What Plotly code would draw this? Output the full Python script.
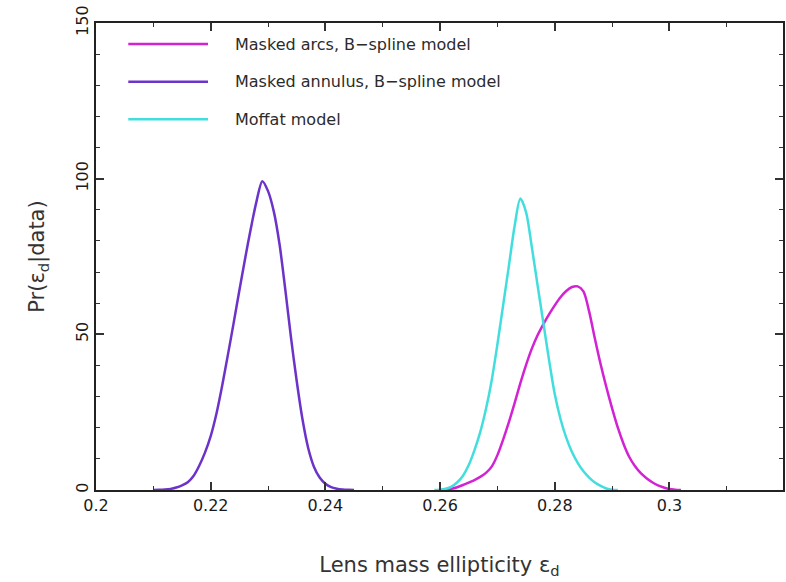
"""Posterior of lens mass ellipticity for three models."""

import plotly.graph_objects as go

# ellipticity grids and probability densities
annulus_x = [0.210, 0.211, 0.212, 0.213, 0.214, 0.215, 0.216, 0.217, 0.218,
             0.219, 0.220, 0.221, 0.222, 0.223, 0.224, 0.225, 0.226, 0.227,
             0.228, 0.229, 0.230, 0.231, 0.232, 0.233, 0.234, 0.235, 0.236,
             0.237, 0.238, 0.239, 0.240, 0.241, 0.242, 0.243, 0.244, 0.245]
annulus_y = [0.0, 0.05, 0.15, 0.35, 0.8, 1.5, 2.5, 4.5, 7.8,
             12.0, 17.3, 24.5, 33.5, 43.4, 53.6, 64.1, 74.3, 84.0,
             92.8, 99.2, 96.0, 89.5, 79.0, 64.5, 49.0, 35.0, 22.8,
             13.5, 7.5, 4.0, 2.0, 0.9, 0.4, 0.15, 0.05, 0.0]

moffat_x = [0.259, 0.260, 0.261, 0.262, 0.263, 0.264, 0.265, 0.266, 0.267,
            0.268, 0.269, 0.270, 0.271, 0.272, 0.273, 0.274, 0.275, 0.276,
            0.277, 0.278, 0.279, 0.280, 0.281, 0.282, 0.283, 0.284, 0.285,
            0.286, 0.287, 0.288, 0.289, 0.290, 0.291]
moffat_y = [0.0, 0.1, 0.4, 1.1, 2.5, 4.6, 8.0, 12.8, 18.6,
            26.0, 35.2, 46.8, 59.4, 72.0, 84.8, 93.6, 89.2, 78.0,
            65.8, 53.8, 41.8, 30.8, 22.8, 16.8, 12.2, 8.7, 6.0,
            4.0, 2.4, 1.3, 0.5, 0.1, 0.0]

arcs_x = [0.260, 0.261, 0.262, 0.263, 0.264, 0.265, 0.266, 0.267, 0.268,
          0.269, 0.270, 0.271, 0.272, 0.273, 0.274, 0.275, 0.276, 0.277,
          0.278, 0.279, 0.280, 0.281, 0.282, 0.283, 0.284, 0.285, 0.286,
          0.287, 0.288, 0.289, 0.290, 0.291, 0.292, 0.293, 0.294, 0.295,
          0.296, 0.297, 0.298, 0.299, 0.300, 0.301, 0.302]
arcs_y = [0.0, 0.1, 0.4, 0.9, 1.6, 2.4, 3.2, 4.2, 5.5,
          7.5, 11.2, 16.2, 21.8, 27.9, 34.3, 40.2, 45.4, 49.7,
          53.2, 56.4, 59.3, 61.9, 63.9, 65.2, 65.4, 63.8, 57.3,
          48.6, 40.4, 33.0, 26.2, 20.0, 14.8, 10.6, 7.6, 5.4,
          3.8, 2.5, 1.5, 0.8, 0.3, 0.1, 0.0]

series_names = ["Masked arcs, B\u2212spline model",
                "Masked annulus, B\u2212spline model",
                "Moffat model"]
series_colors = ["#D322D3", "#6B33C9", "#42DEDE"]
series_x = [arcs_x, annulus_x, moffat_x]
series_y = [arcs_y, annulus_y, moffat_y]

fig = go.Figure()
for name, color, xs, ys in zip(series_names, series_colors, series_x, series_y):
    fig.add_trace(go.Scatter(x=xs, y=ys, name=name, mode="lines",
                             line=dict(color=color, width=2.5, shape="spline",
                                       smoothing=0.8)))

# hand-drawn legend: long line samples like the original
legend_y = [0.955, 0.874, 0.794]
for name, color, ly in zip(series_names, series_colors, legend_y):
    fig.add_shape(type="line", xref="paper", yref="paper",
                  x0=0.047, x1=0.163, y0=ly, y1=ly,
                  line=dict(color=color, width=2.5))
    fig.add_annotation(xref="paper", yref="paper", x=0.2, y=ly,
                       xanchor="left", yanchor="middle", showarrow=False,
                       text=name, font=dict(size=16, color="#2b2b2b"))

axis_common = dict(showline=True, linecolor="#222", linewidth=1.5,
                   mirror="ticks", ticks="inside", ticklen=8, tickwidth=1.5,
                   tickcolor="#333", showgrid=False, zeroline=False,
                   automargin=False,
                   tickfont=dict(size=16, color="#1a1a1a"))

fig.update_xaxes(range=[0.2, 0.3198], tick0=0.2, dtick=0.02,
                 minor=dict(ticks="inside", ticklen=4, dtick=0.01,
                            tickcolor="#333", tickwidth=1.2),
                 title=dict(text="Lens mass ellipticity \u03b5<sub>d</sub>",
                            font=dict(size=21, color="#333"), standoff=43),
                 **axis_common)
fig.update_yaxes(range=[0, 150], tick0=0, dtick=50, tickangle=-90,
                 minor=dict(ticks="inside", ticklen=4, dtick=10,
                            tickcolor="#333", tickwidth=1.2),
                 title=dict(text="Pr(\u03b5<sub>d</sub>|data)",
                            font=dict(size=21, color="#333"), standoff=22),
                 **axis_common)

fig.update_layout(width=786, height=582, showlegend=False,
                  margin=dict(l=96, r=3, t=23, b=92),
                  paper_bgcolor="white", plot_bgcolor="white",
                  font=dict(family="DejaVu Sans, Liberation Sans, sans-serif"))

# the page's default body margin would push the figure 8px off the window
fig.write_html("out.html", config={"displayModeBar": False},
               post_script="document.body.style.margin='0';")
